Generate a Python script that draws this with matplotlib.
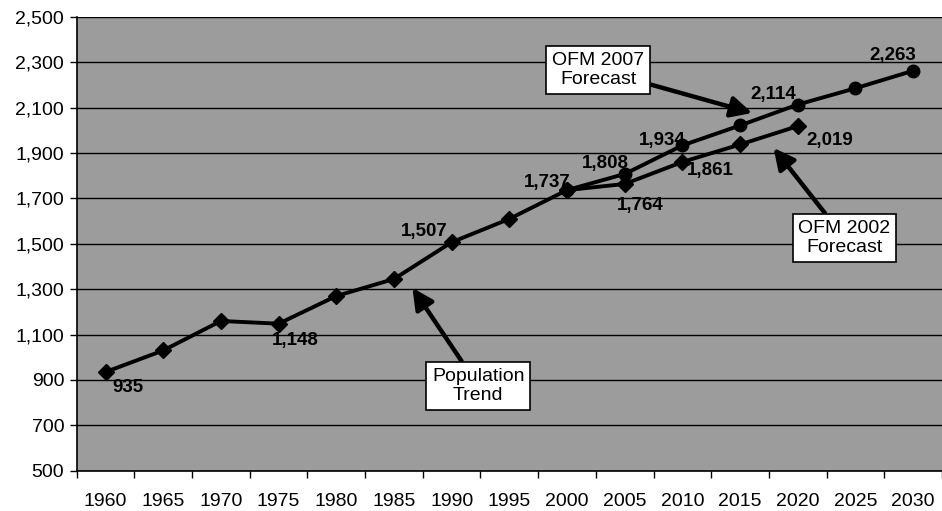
import matplotlib
matplotlib.use("Agg")
import matplotlib.pyplot as plt

# data
years = [1960, 1965, 1970, 1975, 1980, 1985, 1990, 1995, 2000, 2005, 2010, 2015, 2020, 2025, 2030]
trend_years = [1960, 1965, 1970, 1975, 1980, 1985, 1990, 1995, 2000]
trend_vals = [935, 1030, 1160, 1148, 1270, 1345, 1507, 1610, 1737]
ofm2002_years = [2000, 2005, 2010, 2015, 2020]
ofm2002_vals = [1737, 1764, 1861, 1938, 2019]
ofm2007_years = [2000, 2005, 2010, 2015, 2020, 2025, 2030]
ofm2007_vals = [1737, 1808, 1934, 2022, 2114, 2186, 2263]

# labelled points: (series, year, text, offset in pixels)
point_labels = [
    ("trend", 1960, "935", (22, -15)),
    ("trend", 1975, "1,148", (17, -17)),
    ("trend", 1990, "1,507", (-27, 11)),
    ("trend", 2000, "1,737", (-20, 8)),
    ("ofm2007", 2005, "1,808", (-19, 10)),
    ("ofm2002", 2005, "1,764", (16, -22)),
    ("ofm2007", 2010, "1,934", (-20, 5)),
    ("ofm2002", 2010, "1,861", (28, -9)),
    ("ofm2007", 2020, "2,114", (-25, 10)),
    ("ofm2002", 2020, "2,019", (32, -14)),
    ("ofm2007", 2030, "2,263", (-20, 15)),
]

plt.rcParams['font.family'] = ['Liberation Sans', 'DejaVu Sans']

def idx(ys):
    return [years.index(y) for y in ys]

fig = plt.figure(figsize=(9.42, 5.11), dpi=100)
ax = fig.add_axes([0.0814, 0.0789, 0.9186, 0.8878])
ax.set_facecolor('#9c9c9c')

ax.plot(idx(ofm2007_years), ofm2007_vals, color='black', lw=2.8, marker='o', ms=9, zorder=3)
ax.plot(idx(ofm2002_years), ofm2002_vals, color='black', lw=2.8, marker='D', ms=8, zorder=3)
ax.plot(idx(trend_years), trend_vals, color='black', lw=2.8, marker='D', ms=8, zorder=3)

series = {
    "trend": dict(zip(trend_years, trend_vals)),
    "ofm2002": dict(zip(ofm2002_years, ofm2002_vals)),
    "ofm2007": dict(zip(ofm2007_years, ofm2007_vals)),
}
for s, yr, txt, off in point_labels:
    ax.annotate(txt, (years.index(yr), series[s][yr]), xytext=off, textcoords='offset pixels',
                ha='center', va='center', fontsize=13.5, fontweight='bold', color='black', zorder=4)

box = dict(boxstyle='square,pad=0.3', fc='white', ec='black', lw=1.2)
arrow = dict(arrowstyle='-|>,head_length=0.9,head_width=0.45', color='black', lw=3.2, shrinkA=0, shrinkB=0)
ax.annotate("OFM 2007\nForecast", xy=(11.21, 2077), xytext=(8.54, 2267), ha='center', va='center',
            fontsize=14, bbox=box, arrowprops=arrow, zorder=5)
ax.annotate("OFM 2002\nForecast", xy=(11.58, 1923), xytext=(12.81, 1526), ha='center', va='center',
            fontsize=14, bbox=box, arrowprops=arrow, zorder=5)
ax.annotate("Population\nTrend", xy=(5.32, 1306), xytext=(6.46, 874), ha='center', va='center',
            fontsize=14, bbox=box, arrowprops=arrow, zorder=5)

ax.set_xlim(-0.5, len(years) - 0.5)
ax.set_ylim(500, 2500)
ax.set_yticks(range(500, 2501, 200))
ax.set_yticklabels([f"{v:,}" for v in range(500, 2501, 200)], fontsize=14)
ax.yaxis.grid(True, color='black', lw=1)
ax.set_axisbelow(True)

ax.set_xticks(range(len(years)))
ax.set_xticklabels([str(y) for y in years], fontsize=14)
ax.tick_params(axis='x', length=0, pad=16)
ax.set_xticks([i + 0.5 for i in range(-1, len(years))], minor=True)
ax.tick_params(axis='x', which='minor', length=5, width=1)
ax.tick_params(axis='y', length=5, width=1, pad=4)

for side in ['top', 'right']:
    ax.spines[side].set_visible(False)
ax.spines['left'].set_linewidth(1.2)
ax.spines['bottom'].set_linewidth(1.2)

fig.savefig('out.png', dpi=100)
